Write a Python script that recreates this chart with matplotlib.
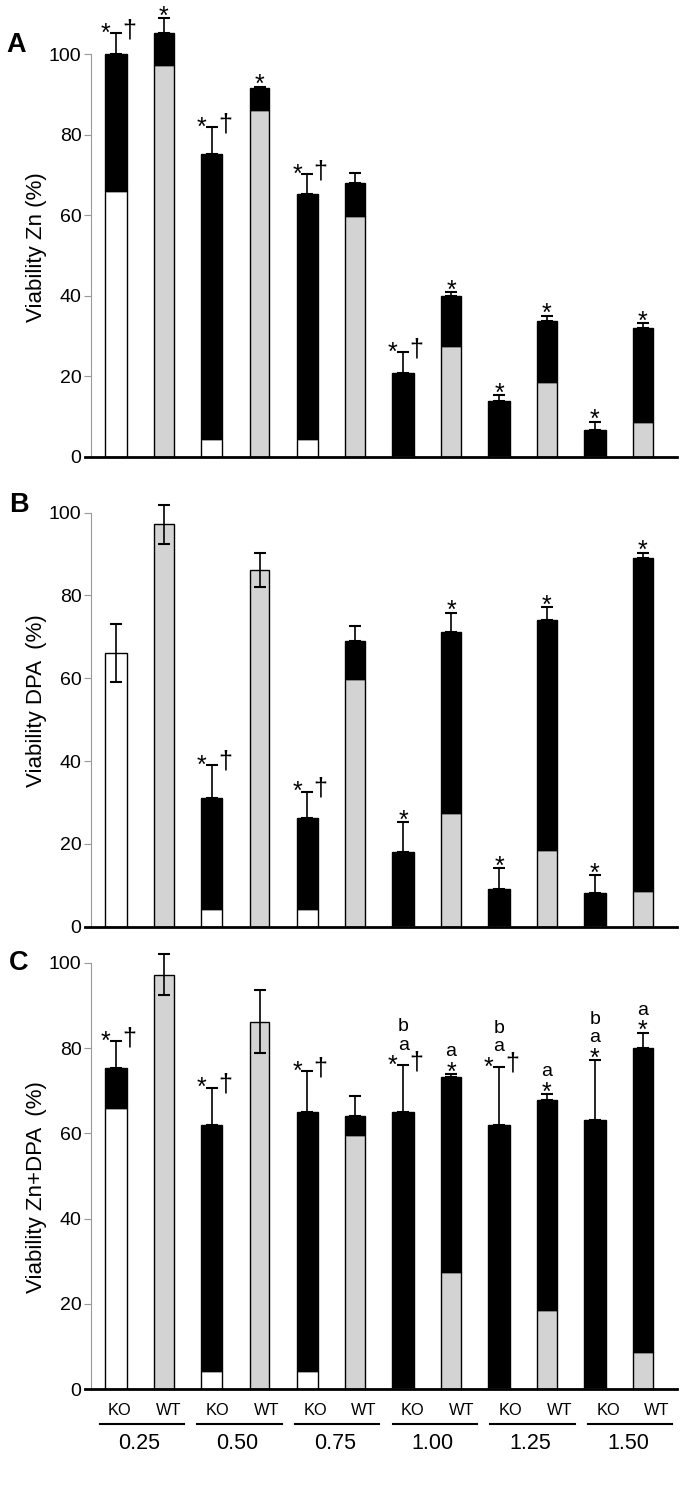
import matplotlib.pyplot as plt
from matplotlib.transforms import blended_transform_factory

plt.rcParams['font.family'] = ['Liberation Sans', 'DejaVu Sans']

# groups / strains
conc = ['0.25', '0.50', '0.75', '1.00', '1.25', '1.50']
strains = ['KO', 'WT'] * 6

# untreated viability at each concentration (lower part of bars)
base = [66, 97.2, 4.3, 86.2, 4.3, 59.7, 0.4, 27.5, 0.4, 18.5, 0.4, 8.6]

# panel A : Zn
zn_val = [100, 105.3, 75.3, 91.5, 65.2, 67.9, 20.9, 39.8, 13.9, 33.7, 6.6, 31.9]
zn_err = [5.2, 3.6, 6.5, 0.4, 5.0, 2.7, 5.0, 1.1, 1.3, 1.3, 2.1, 1.3]
zn_two = []
zn_marks = ['*†', '*', '*†', '*', '*†', '', '*†', '*', '*', '*', '*', '*']

# panel B : DPA
dpa_val = [66, 97.2, 31, 86.2, 26.2, 69.1, 18, 71.1, 9, 74, 8.1, 89.1]
dpa_err = [7, 4.7, 8.1, 4.1, 6.4, 3.6, 7.2, 4.7, 5.2, 3.2, 4.4, 1.2]
dpa_two = [0, 1, 3]
dpa_marks = ['', '', '*†', '', '*†', '', '*', '*', '*', '*', '*', '*']

# panel C : Zn + DPA
mix_val = [75.2, 97.2, 61.9, 86.2, 65.1, 64, 65.1, 73.2, 61.9, 67.9, 63.2, 80.1]
mix_err = [6.4, 4.8, 8.8, 7.3, 9.5, 4.8, 10.8, 0.6, 13.7, 1.2, 14, 3.5]
mix_two = [1, 3]
mix_marks = ['*†', '', '*†', '', '*†', '', 'ba*†', 'a*', 'ba*†', 'a*', 'ba*', 'a*']

x = list(range(12))
GRAY = '#d3d3d3'


def mark(ax, xi, y, code):
    letters = code.replace('*', '').replace('†', '')
    kw = dict(xycoords='data', textcoords='offset points', ha='center',
              va='baseline')
    if '†' in code:
        ax.annotate('*', (xi, y), xytext=(-7.5, -5.5), fontsize=18, **kw)
        ax.annotate('†', (xi, y), xytext=(9.5, -3), fontsize=18, **kw)
        start = 11.5
    elif '*' in code:
        ax.annotate('*', (xi, y), xytext=(0, -4), fontsize=18, **kw)
        start = 13
    else:
        start = 4
    for k, ch in enumerate(reversed(letters)):
        ax.annotate(ch, (xi, y), xytext=(0, start + 13 * k), fontsize=14, **kw)


def panel(ax, vals, errs, two, marks, ylabel, lab_y):
    ax.patch.set_visible(False)
    for i in x:
        col = 'white' if i % 2 == 0 else GRAY
        w = 0.45 if i % 2 == 0 else 0.41
        low = min(vals[i], base[i])
        black = max(vals[i] - base[i], 0)
        ax.bar(i, low, w, color=col, edgecolor='k', linewidth=1.0, zorder=2)
        if black > 0:
            ax.bar(i, black, w, bottom=low, color='k', edgecolor='k',
                   linewidth=1.0, zorder=2)
        lo = errs[i] if i in two else 0
        ax.errorbar(i, vals[i], yerr=[[lo], [errs[i]]], fmt='none', ecolor='k',
                    elinewidth=1.2, capsize=4.5, capthick=1.5, zorder=3)
        mark(ax, i, vals[i] + errs[i], marks[i])

    ax.set_xlim(-0.643, 11.716)
    ax.set_ylim(0, 110)
    ax.set_yticks(range(0, 101, 20))
    ax.spines['top'].set_visible(False)
    ax.spines['right'].set_visible(False)
    ax.spines['left'].set_position(('data', -0.528))
    ax.spines['left'].set_bounds(0, 100)
    ax.spines['left'].set_color('#999999')
    ax.spines['left'].set_linewidth(0.8)
    ax.spines['bottom'].set_linewidth(2)
    ax.tick_params(axis='y', length=5, width=0.8, color='#999999',
                   labelsize=14, pad=1.5)
    ax.set_xticks([])
    ax.set_ylabel(ylabel, fontsize=16)
    ax.yaxis.set_label_coords(-0.064, lab_y)


fig = plt.figure(figsize=(6.88, 14.85), dpi=100)
axA = fig.add_axes([0.12355, 0.6925, 0.86047, 0.2981])
axB = fig.add_axes([0.12355, 0.3760, 0.86047, 0.3067])
axC = fig.add_axes([0.12355, 0.0646, 0.86047, 0.3158])

panel(axA, zn_val, zn_err, zn_two, zn_marks, 'Viability Zn (%)', 0.474)
panel(axB, dpa_val, dpa_err, dpa_two, dpa_marks, 'Viability DPA  (%)', 0.496)
panel(axC, mix_val, mix_err, mix_two, mix_marks, 'Viability Zn+DPA  (%)', 0.43)

# bottom labels (the label strip is slightly wider than the bar spacing)
lab_x = [i * 1.02 + 0.08 for i in x]
axC.set_xticks(lab_x)
axC.set_xticklabels(strains, fontsize=11.8)
axC.tick_params(axis='x', length=0, pad=10)
tr = blended_transform_factory(axC.transData, axC.transAxes)
for g, name in enumerate(conc):
    c = (2 * g + 0.5) * 1.02 + 0.03
    axC.plot([c - 0.88, c + 0.88], [-0.0746, -0.0746], color='k', lw=1.5,
             transform=tr, clip_on=False)
    axC.text(c - 0.05, -0.117, name, transform=tr, ha='center', va='center',
             fontsize=15.5)

fig.text(0.0087, 0.9648, 'A', fontsize=19.5, fontweight='bold', va='baseline')
fig.text(0.0131, 0.6554, 'B', fontsize=19.5, fontweight='bold', va='baseline')
fig.text(0.0131, 0.3468, 'C', fontsize=19.5, fontweight='bold', va='baseline')

fig.savefig('out.png', dpi=100)
